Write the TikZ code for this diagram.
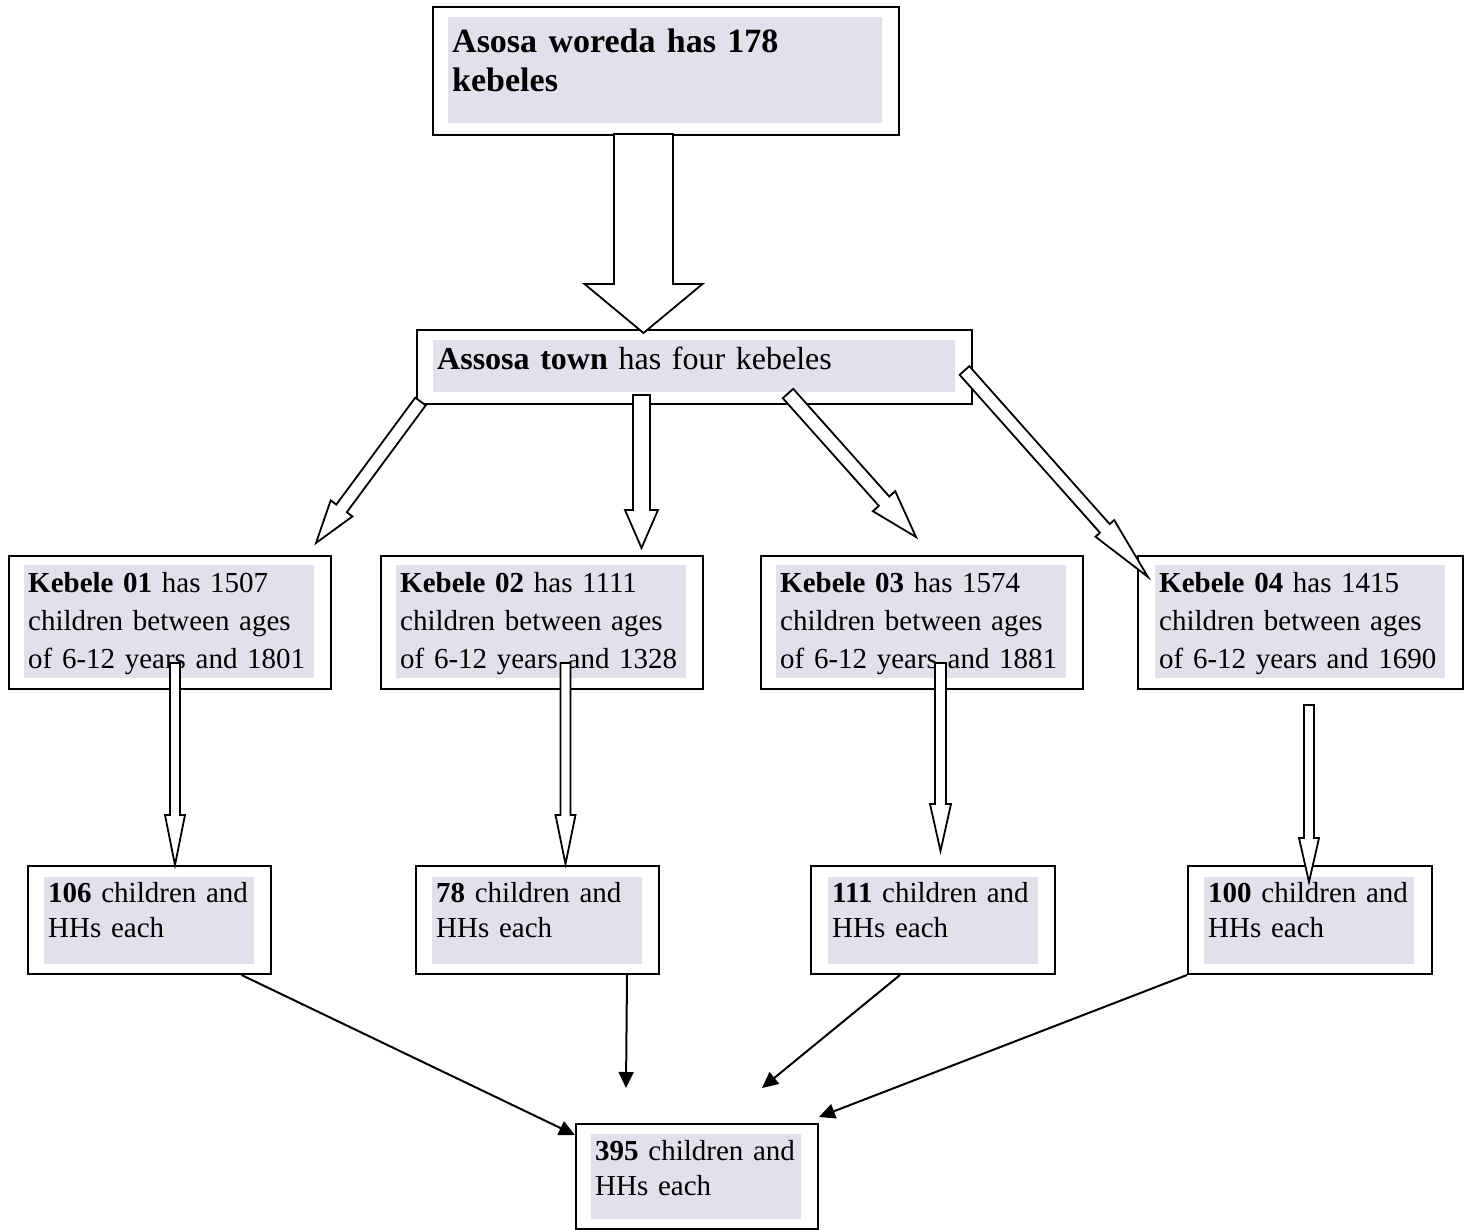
\documentclass[tikz,border=0pt]{standalone}
\usepackage{fontspec}
\setmainfont{Liberation Serif}
\usetikzlibrary{calc,arrows.meta}
\definecolor{lav}{RGB}{227,223,235}

\begin{document}
\begin{tikzpicture}[x=1pt,y=-1pt,
    outbox/.style={draw, line width=2pt, fill=white, anchor=north west, inner sep=0pt},
    lavtext/.style={fill=lav, anchor=north west, inner xsep=4pt, inner ysep=0pt, align=left},
    kebtext/.style={lavtext, text width=282pt, text height=27pt, text depth=86pt,
      font=\fontsize{29pt}{38pt}\selectfont},
    hhtext/.style={lavtext, text width=202pt, text height=25pt, text depth=62pt,
      font=\fontsize{29pt}{35pt}\selectfont},
    blockarrow/.style={draw, line width=1.8pt, fill=white, line join=miter},
    sumline/.style={line width=2pt, -{Triangle[length=16pt,width=15pt]}}]

\useasboundingbox (0,0) rectangle (1466,1230);

% woreda and town
\node[outbox, minimum width=466pt, minimum height=128pt] (woreda) at (432,6) {};
\node[lavtext, text width=426pt, text height=35pt, text depth=71pt,
  font=\fontsize{34pt}{39.5pt}\selectfont\bfseries] (woredatxt) at (448,17)
  {Asosa woreda has 178\\kebeles};
\node[outbox, minimum width=555pt, minimum height=74pt] (town) at (416,329) {};
\node[lavtext, text width=514pt, text height=29pt, text depth=23pt,
  font=\fontsize{32pt}{38pt}\selectfont] (towntxt) at (433,340)
  {\textbf{Assosa town} has four kebeles};

% kebeles
\node[outbox, minimum width=322pt, minimum height=133pt] (keb1) at (8,555) {};
\node[kebtext] (keb1txt) at (24,565)
  {\textbf{Kebele 01} has 1507\\children between ages\\of 6-12 years and 1801};
\node[outbox, minimum width=322pt, minimum height=133pt] (keb2) at (380,555) {};
\node[kebtext] (keb2txt) at (396,565)
  {\textbf{Kebele 02} has 1111\\children between ages\\of 6-12 years and 1328};
\node[outbox, minimum width=322pt, minimum height=133pt] (keb3) at (760,555) {};
\node[kebtext] (keb3txt) at (776,565)
  {\textbf{Kebele 03} has 1574\\children between ages\\of 6-12 years and 1881};
\node[outbox, minimum width=325pt, minimum height=133pt] (keb4) at (1137,555) {};
\node[kebtext] (keb4txt) at (1155,565)
  {\textbf{Kebele 04} has 1415\\children between ages\\of 6-12 years and 1690};

% samples
\node[outbox, minimum width=243pt, minimum height=108pt] (hh1) at (27,865) {};
\node[hhtext] (hh1txt) at (44,877) {\textbf{106} children and\\HHs each};
\node[outbox, minimum width=243pt, minimum height=108pt] (hh2) at (415,865) {};
\node[hhtext] (hh2txt) at (432,877) {\textbf{78} children and\\HHs each};
\node[outbox, minimum width=244pt, minimum height=108pt] (hh3) at (810,865) {};
\node[hhtext] (hh3txt) at (828,877) {\textbf{111} children and\\HHs each};
\node[outbox, minimum width=244pt, minimum height=108pt] (hh4) at (1187,865) {};
\node[hhtext] (hh4txt) at (1204,877) {\textbf{100} children and\\HHs each};

\node[outbox, minimum width=242pt, minimum height=105pt] (total) at (575,1123) {};
\node[hhtext, text height=26pt, text depth=59pt] (totaltxt) at (591,1134)
  {\textbf{395} children and\\HHs each};

% block arrows
\coordinate (big0) at (643.5,134);    \coordinate (big1) at (643.5,333);
\coordinate (town1a) at (420.5,401.5); \coordinate (town1b) at (316,543);
\coordinate (town2a) at (641.5,395);   \coordinate (town2b) at (641.5,548);
\coordinate (town3a) at (788,393.5);   \coordinate (town3b) at (916,537);
\coordinate (town4a) at (964.5,370.5); \coordinate (town4b) at (1148,577);
\coordinate (keb1a) at (175,663);      \coordinate (keb1b) at (175,865);
\coordinate (keb2a) at (565.5,663);    \coordinate (keb2b) at (565.5,864);
\coordinate (keb3a) at (940.5,663);    \coordinate (keb3b) at (940.5,851);
\coordinate (keb4a) at (1309,705);     \coordinate (keb4b) at (1309,882);

\foreach \a/\b/\w/\h/\l in {big0/big1/29.5pt/59pt/49pt,
    town1a/town1b/6.5pt/13.5pt/43pt, town2a/town2b/8.5pt/16.5pt/38pt,
    town3a/town3b/7pt/15pt/48pt, town4a/town4b/6.5pt/12.5pt/65pt,
    keb1a/keb1b/5pt/10pt/50pt, keb2a/keb2b/5pt/10pt/49pt,
    keb3a/keb3b/5.5pt/10.5pt/47pt, keb4a/keb4b/5pt/10pt/44pt}{
  \coordinate (hb) at ($(\b)!\l!(\a)$);
  \draw[blockarrow] ($(\a)!\w!90:(\b)$) -- ($(hb)!\w!90:(\b)$) -- ($(hb)!\h!90:(\b)$)
    -- (\b) -- ($(hb)!\h!-90:(\b)$) -- ($(hb)!\w!-90:(\b)$) -- ($(\a)!\w!-90:(\b)$) -- cycle;
}

% lines to the total
\coordinate (end2) at (626,1088);
\coordinate (end3) at (762,1088);
\draw[sumline] ([xshift=92pt]hh1.south) -- ([yshift=-12pt]total.north west);
\draw[sumline] ([xshift=89.5pt]hh2.south) -- (end2);
\draw[sumline] ([xshift=-33pt]hh3.south) -- (end3);
\draw[sumline] (hh4.south west) -- ([yshift=6pt]total.north east);
\end{tikzpicture}
\end{document}
